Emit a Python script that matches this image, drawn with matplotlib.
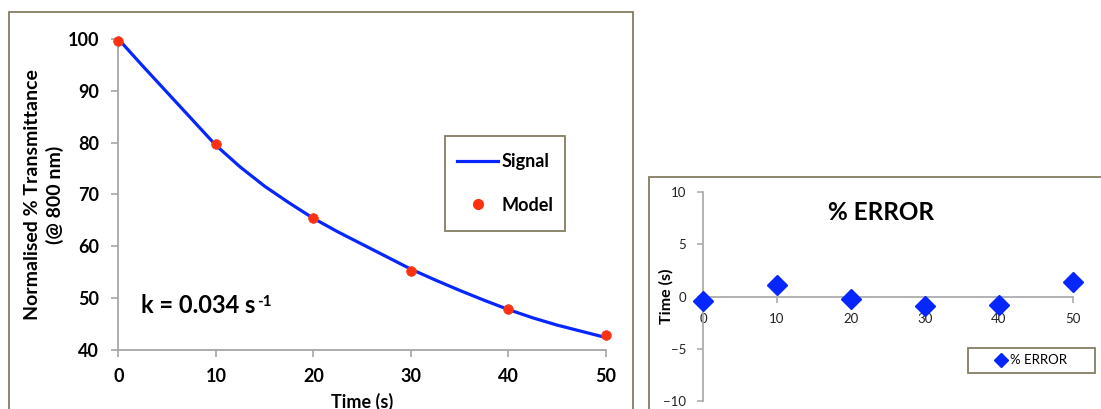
import matplotlib
matplotlib.use("Agg")
import matplotlib.pyplot as plt
from matplotlib.lines import Line2D
from matplotlib.patches import Rectangle

plt.rcParams["font.family"] = ["Lato", "DejaVu Sans"]

# signal curve (every 2.5 s)
signal_t = [0, 2.5, 5, 7.5, 10, 12.5, 15, 17.5, 20, 22.5, 25,
            27.5, 30, 32.5, 35, 37.5, 40, 42.5, 45, 47.5, 50]
signal_v = [100, 94.8, 89.7, 84.6, 79.5, 75.3, 71.6, 68.4, 65.4, 62.8, 60.4,
            58.0, 55.6, 53.5, 51.5, 49.6, 47.8, 46.2, 44.8, 43.6, 42.4]

# model points
model_t = [0, 10, 20, 30, 40, 50]
model_v = [99.6, 79.8, 65.5, 55.2, 48.0, 42.9]

# percentage error
err_t = [0, 10, 20, 30, 40, 50]
err_v = [-0.4, 1.1, -0.2, -0.9, -0.8, 1.4]

W, H = 1101, 409
fig = plt.figure(figsize=(W / 100, H / 100), dpi=100)

FRAME = "#857d62"
GRID = "#a6a6a6"
BLUE = "#0626ff"
RED = "#ff3010"


def fx(px):
    return px / W


def fy(py):
    return 1 - py / H


def box(x0, y0, x1, y1):
    # rectangle given in picture pixels (top-left origin)
    fig.patches.append(Rectangle((fx(x0), fy(y1)), fx(x1 - x0), (y1 - y0) / H,
                                 transform=fig.transFigure, fill=False,
                                 edgecolor=FRAME, lw=1.3, clip_on=False, zorder=5))


# outer chart frames
box(9, 12, 633, 420)
box(649, 177, 1120, 420)

# left chart
ax = fig.add_axes([fx(118.3), fy(350), fx(606 - 118.3), (350 - 39) / H])
ax.plot(signal_t, signal_v, color=BLUE, lw=2.3, zorder=2)
ax.plot(model_t, model_v, "o", color=RED, ms=7, mec="#f04020", mew=0.5,
        zorder=3, clip_on=False)
ax.set_xlim(0, 50)
ax.set_ylim(40, 100)
ax.set_xticks(range(0, 51, 10))
ax.set_yticks(range(40, 101, 10))
for side in ("top", "right"):
    ax.spines[side].set_visible(False)
for side in ("left", "bottom"):
    ax.spines[side].set_color(GRID)
    ax.spines[side].set_linewidth(1.3)
ax.tick_params(axis="both", colors=GRID, length=5, width=1.2, direction="out",
               labelcolor="black", labelsize=13)
ax.tick_params(axis="x", pad=8)
ax.tick_params(axis="y", pad=9)
for lab in ax.get_xticklabels() + ax.get_yticklabels():
    lab.set_fontweight("bold")
ax.set_xlabel("Time (s)", fontsize=13, fontweight="bold", labelpad=6)
ax.set_ylabel("Normalised % Transmittance\n(@ 800 nm)", fontsize=14,
              fontweight="bold", linespacing=1.35)
ax.yaxis.set_label_coords((64 - 118.3) / (606 - 118.3), 0.5)

ktxt = fig.text(fx(141), fy(313), "k = 0.034 s", fontsize=17, fontweight="bold",
                ha="left", va="baseline")
ax.annotate("-1", xy=(1, 1), xycoords=ktxt, xytext=(1, -1), textcoords="offset points",
            fontsize=11, fontweight="bold", ha="left", va="top")

box(445, 136, 565, 231)
handles = [Line2D([], [], color=BLUE, lw=2.3),
           Line2D([], [], ls="none", marker="o", color=RED, ms=7)]
leg = ax.legend(handles, ["Signal", "Model"], loc="center",
                bbox_to_anchor=(fx(445), fy(231), fx(565 - 445), (231 - 136) / H),
                bbox_transform=fig.transFigure, frameon=False,
                handlelength=2.3, handletextpad=0.15,
                labelspacing=1.45, prop={"weight": "bold", "size": 13})

# right chart
ax2 = fig.add_axes([fx(703), fy(401), fx(1073 - 703), (401 - 192) / H])
ax2.plot(err_t, err_v, "D", color=BLUE, ms=10, ls="none", clip_on=False, zorder=3)
ax2.set_xlim(0, 50)
ax2.set_ylim(-10, 10)
ax2.set_xticks(range(0, 51, 10))
ax2.set_yticks(range(-10, 11, 5))
ax2.spines["top"].set_visible(False)
ax2.spines["right"].set_visible(False)
ax2.spines["bottom"].set_position(("data", 0))
for side in ("left", "bottom"):
    ax2.spines[side].set_color(GRID)
    ax2.spines[side].set_linewidth(1.2)
ax2.tick_params(axis="both", colors=GRID, length=4, width=1.1, direction="out",
                labelcolor="#222222", labelsize=9.5)
ax2.tick_params(axis="x", pad=8)
ax2.tick_params(axis="y", pad=8)
ax2.set_ylabel("Time (s)", fontsize=11.5, fontweight="bold")
ax2.yaxis.set_label_coords((674 - 703) / (1073 - 703), 0.5)
fig.text(fx(881), fy(213), "% ERROR", fontsize=17.5, fontweight="bold",
         ha="center", va="center")

box(968, 348, 1095, 373)
leg2 = ax2.legend([Line2D([], [], ls="none", marker="D", color=BLUE, ms=7)],
                  ["% ERROR"], loc="center",
                  bbox_to_anchor=(fx(968), fy(373), fx(1095 - 968), (373 - 348) / H),
                  bbox_transform=fig.transFigure, frameon=False,
                  handlelength=0.8, handletextpad=0.3, borderpad=0.2,
                  prop={"size": 9.5})

fig.savefig("out.png", dpi=100)
